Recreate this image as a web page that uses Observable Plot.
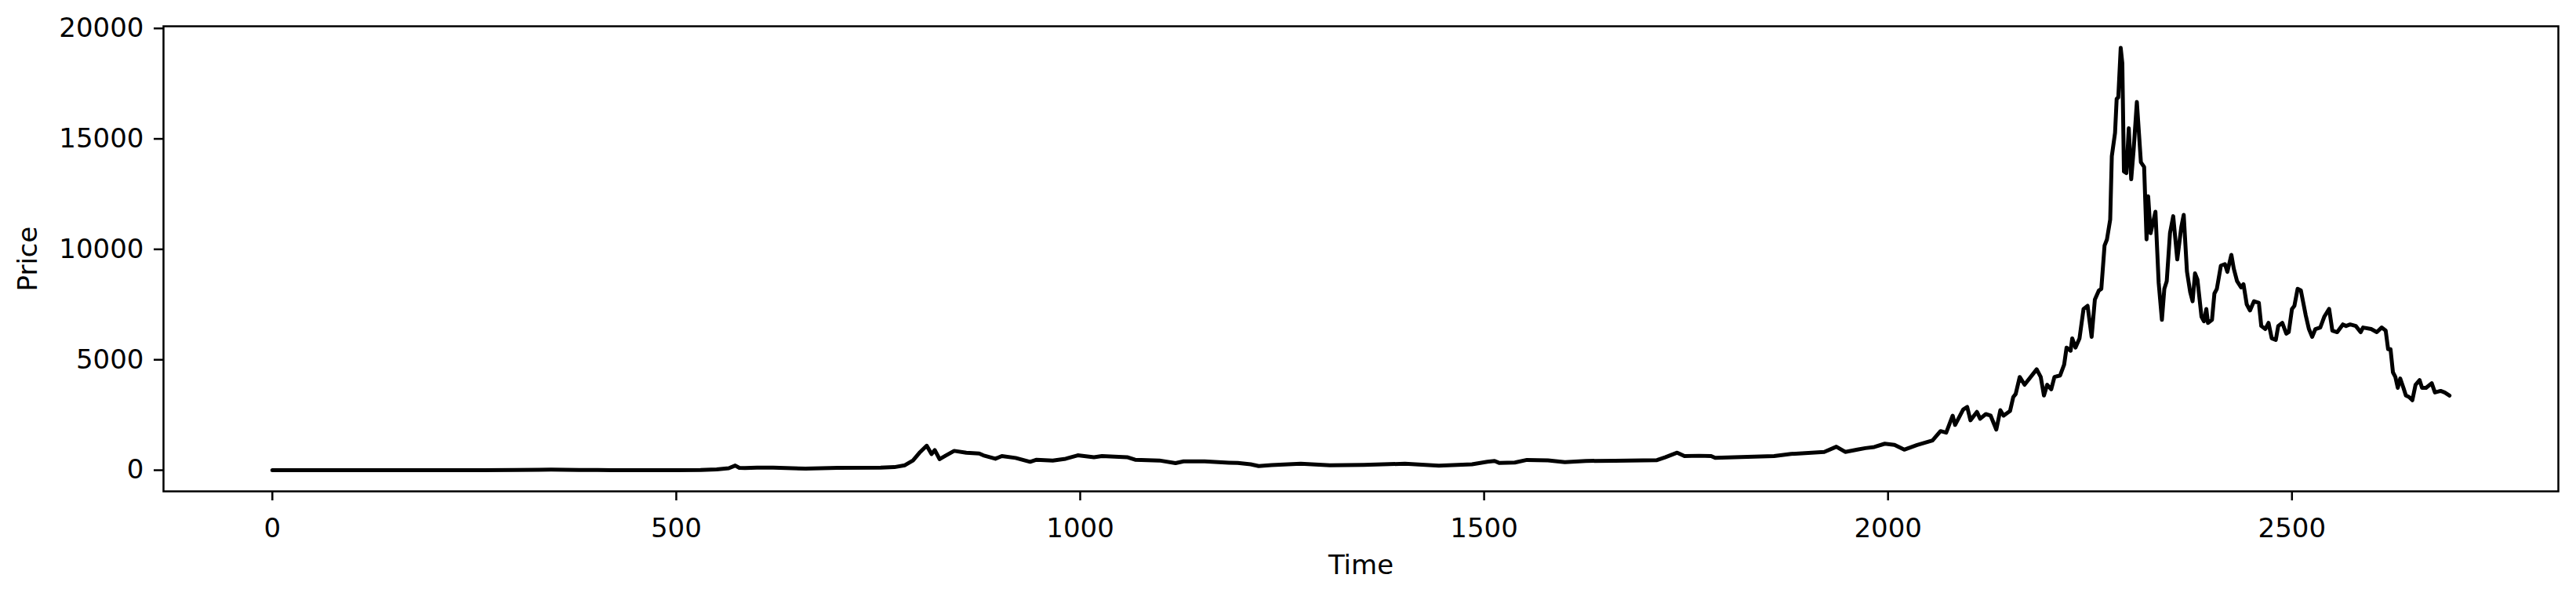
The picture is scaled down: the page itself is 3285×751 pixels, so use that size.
<!DOCTYPE html>
<html>
<head>
<meta charset="utf-8">
<script src="https://cdn.jsdelivr.net/npm/d3@7"></script>
<script src="https://cdn.jsdelivr.net/npm/@observablehq/plot@0.6"></script>
<style>
  html, body { margin: 0; padding: 0; background: #fff; }
  #chart svg { display: block; }
</style>
</head>
<body>
<div id="chart"></div>
<script>
const time = [0,60,120,180,220,260,300,330,345,380,420,460,500,530,550,565,573,578,585,600,620,660,700,753,770,783,793,801,810,816,820,826,834,844,859,875,880,895,903,920,938,946,966,982,997,1017,1027,1058,1068,1098,1118,1128,1154,1184,1195,1211,1221,1237,1273,1309,1351,1402,1444,1485,1504,1513,1519,1538,1553,1579,1600,1626,1662,1714,1724,1739,1748,1766,1781,1786,1818,1859,1880,1921,1936,1947,1962,1972,1983,1996,2008,2020,2036,2055,2065,2072,2080,2083,2093,2098,2102,2110,2114,2121,2127,2134,2139,2143,2151,2155,2158,2163,2169,2184,2189,2193,2197,2202,2206,2213,2218,2221,2226,2228,2232,2237,2242,2247,2252,2256,2261,2264,2268,2271,2275,2277,2281,2283,2285,2288,2290,2292,2295,2298,2301,2304,2308,2313,2317,2320,2322,2325,2331,2335,2339,2342,2345,2349,2353,2358,2363,2366,2370,2374,2377,2380,2383,2388,2391,2394,2396,2401,2404,2407,2412,2417,2420,2425,2428,2432,2437,2440,2444,2448,2453,2459,2462,2467,2471,2475,2480,2483,2488,2493,2496,2500,2503,2507,2511,2514,2517,2521,2525,2529,2535,2540,2546,2550,2556,2563,2567,2572,2579,2585,2588,2598,2605,2611,2616,2619,2622,2625,2628,2631,2634,2638,2641,2645,2649,2653,2658,2661,2666,2673,2677,2684,2689,2695];
const price = [0.06,0.07,0.1,0.3,0.9,1.5,8,20,25,14,5,5,6,12,35,90,210,110,95,120,115,70,106,118,140,225,440,790,1110,730,910,500,670,875,790,757,675,520,640,556,380,473,440,520,675,590,640,590,473,440,320,400,400,343,327,270,190,234,292,222,245,292,210,270,385,420,327,350,467,444,362,420,432,455,584,794,642,654,642,560,596,642,736,829,1063,829,934,1000,1051,1200,1150,932,1140,1350,1770,1700,2470,2050,2750,2860,2260,2640,2330,2540,2470,1840,2720,2470,2680,3310,3450,4220,3870,4569,4220,3380,3870,3660,4220,4290,4780,5550,5410,5970,5550,5970,7300,7440,6040,7720,8140,8210,10170,10450,11350,14220,15270,16810,16880,19120,18420,13520,13450,15480,13170,14500,16670,13940,13730,10450,12400,10730,11700,8490,6810,8210,8560,10730,11500,9540,11010,11560,9000,8070,7650,8910,8630,6950,6740,7300,6670,6810,8000,8210,9260,9330,8980,9750,9120,8560,8280,8420,7510,7230,7650,7580,6530,6390,6670,5970,5900,6530,6670,6180,6250,7300,7440,8210,8140,7580,7020,6390,6040,6390,6460,6950,7300,6320,6250,6600,6530,6600,6530,6250,6460,6390,6250,6460,6320,5480,5480,4430,4220,3730,4150,3730,3380,3310,3170,3870,4080,3730,3730,3940,3520,3590,3520,3380];
const xTicks = [0, 500, 1000, 1500, 2000, 2500];
const yTicks = [0, 5000, 10000, 15000, 20000];
const xLabel = "Time";
const yLabel = "Price";

const data = time.map((t, i) => ({t, p: price[i]}));

const chart = Plot.plot({
  width: 3285,
  height: 751,
  marginLeft: 208,
  marginRight: 23,
  marginTop: 33,
  marginBottom: 125,
  style: {fontFamily: "DejaVu Sans", fontSize: "34px", color: "black", background: "white"},
  x: {domain: [-134.75, 2829.75]},
  y: {domain: [-957, 20097]},
  marks: [
    Plot.line(data, {x: "t", y: "p", stroke: "black", strokeWidth: 5, strokeLinejoin: "round", strokeLinecap: "round"}),
    Plot.frame({stroke: "black", strokeWidth: 2.5}),
    Plot.axisX(xTicks, {tickSize: 12, tickPadding: 22, strokeWidth: 2.5, fontSize: 34, label: null, tickFormat: d => String(d)}),
    Plot.axisY(yTicks, {tickSize: 12, tickPadding: 13, strokeWidth: 2.5, fontSize: 34, label: null, tickFormat: d => String(d)}),
    Plot.text([xLabel], {frameAnchor: "bottom", dy: 95, fontSize: 34, fill: "black", lineAnchor: "middle"}),
    Plot.text([yLabel], {frameAnchor: "left", dx: -172, rotate: -90, fontSize: 34, fill: "black", lineAnchor: "middle", textAnchor: "middle"})
  ]
});
document.getElementById("chart").appendChild(chart);
</script>
</body>
</html>
